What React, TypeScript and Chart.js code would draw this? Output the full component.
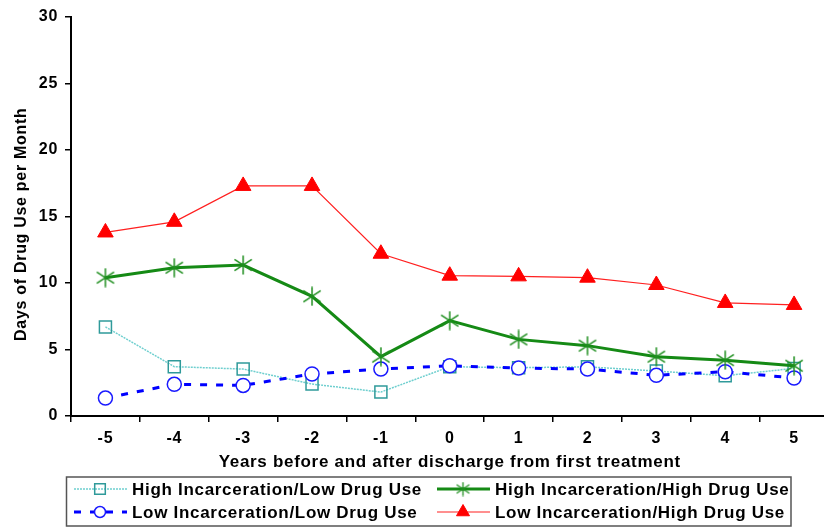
import React, { useEffect, useRef } from "react";
import { Chart, registerables } from "chart.js";
import { drawPoint } from "chart.js/helpers";

Chart.register(...registerables);

const years = ["-5", "-4", "-3", "-2", "-1", "0", "1", "2", "3", "4", "5"];
const highIncLowDrug = [6.7, 3.71, 3.53, 2.4, 1.8, 3.71, 3.63, 3.7, 3.38, 3.03, 3.58];
const highIncHighDrug = [10.4, 11.15, 11.35, 9.0, 4.46, 7.17, 5.76, 5.29, 4.46, 4.2, 3.78];
const lowIncLowDrug = [1.35, 2.38, 2.3, 3.16, 3.53, 3.78, 3.6, 3.53, 3.06, 3.33, 2.86];
const lowIncHighDrug = [13.8, 14.6, 17.3, 17.3, 12.2, 10.55, 10.5, 10.4, 9.85, 8.5, 8.35];
const yTicks = [0, 5, 10, 15, 20, 25, 30];

const FONT = "'Liberation Sans', Arial, sans-serif";
const SPACING = "0.7px";

function makeStar(size: number, color: string, lw: number) {
  const c = document.createElement("canvas");
  c.width = size;
  c.height = size;
  const ctx = c.getContext("2d")!;
  const m = size / 2;
  const r = size / 2 - 0.5;
  ctx.strokeStyle = color;
  ctx.lineWidth = lw;
  ctx.beginPath();
  ctx.moveTo(m, m - r);
  ctx.lineTo(m, m + r);
  const dx = r * Math.cos(Math.PI / 6) * 1.05;
  const dy = r * Math.sin(Math.PI / 6) * 1.2;
  ctx.moveTo(m - dx, m - dy);
  ctx.lineTo(m + dx, m + dy);
  ctx.moveTo(m - dx, m + dy);
  ctx.lineTo(m + dx, m - dy);
  ctx.stroke();
  return c;
}

const spacingPlugin = {
  id: "spacing",
  beforeInit(chart: any) {
    chart.ctx.letterSpacing = SPACING;
  },
  beforeUpdate(chart: any) {
    chart.ctx.letterSpacing = SPACING;
  },
  beforeDraw(chart: any) {
    chart.ctx.letterSpacing = SPACING;
  },
};

const legendPlugin = {
  id: "boxLegend",
  afterDraw(chart: any) {
    const ctx = chart.ctx;
    const ds = chart.data.datasets;
    ctx.save();
    ctx.strokeStyle = "#555";
    ctx.lineWidth = 1.5;
    ctx.strokeRect(66.5, 477, 724.5, 49);
    const cols = [
      { l0: 74, l1: 127, m: 100, t: 132 },
      { l0: 437, l1: 490, m: 463, t: 495 },
    ];
    const rows = [489, 512];
    const legendRadius = [7.5, 6.5, 5.5, 7.5];
    const legendStar = makeStar(15, "#1f8f1f", 1.3);
    ds.forEach((d: any, i: number) => {
      const c = cols[i % 2];
      const y = rows[Math.floor(i / 2)];
      ctx.save();
      ctx.strokeStyle = d.borderColor;
      ctx.lineWidth = d.borderWidth;
      ctx.setLineDash(d.borderDash || []);
      ctx.beginPath();
      ctx.moveTo(c.l0, y);
      ctx.lineTo(c.l1, y);
      ctx.stroke();
      ctx.setLineDash([]);
      ctx.strokeStyle = d.pointBorderColor;
      ctx.fillStyle = d.pointBackgroundColor;
      ctx.lineWidth = d.pointBorderWidth;
      const style = typeof d.pointStyle === "string" ? d.pointStyle : legendStar;
      drawPoint(ctx, { pointStyle: style, radius: legendRadius[i], borderWidth: d.pointBorderWidth, rotation: 0 }, c.m, y);
      ctx.restore();
      ctx.fillStyle = "#000";
      ctx.letterSpacing = SPACING;
      ctx.font = `bold 17px ${FONT}`;
      ctx.textBaseline = "middle";
      ctx.textAlign = "left";
      ctx.fillText(d.label, c.t, y + 1);
    });
    ctx.restore();
  },
};

export default function App() {
  const ref = useRef<HTMLCanvasElement | null>(null);
  useEffect(() => {
    if (!ref.current) return;
    const star = makeStar(20, "#1f8f1f", 1.5);
    const chart = new Chart(ref.current, {
      type: "line",
      data: {
        labels: years,
        datasets: [
          {
            label: "High Incarceration/Low Drug Use",
            data: highIncLowDrug,
            borderColor: "#6fcfcf",
            borderWidth: 1.5,
            borderDash: [2, 1],
            pointStyle: "rect",
            pointRadius: 8.5,
            pointBorderColor: "#2f9a9a",
            pointBackgroundColor: "rgba(0,0,0,0)",
            pointBorderWidth: 1.5,
            order: 4,
          },
          {
            label: "High Incarceration/High Drug Use",
            data: highIncHighDrug,
            borderColor: "#158a15",
            borderWidth: 3,
            pointStyle: star,
            pointRadius: 10,
            pointBorderColor: "#1f8f1f",
            pointBackgroundColor: "#1f8f1f",
            pointBorderWidth: 1.5,
            order: 2,
          },
          {
            label: "Low Incarceration/Low Drug Use",
            data: lowIncLowDrug,
            borderColor: "#0000ff",
            borderWidth: 3,
            borderDash: [7, 9],
            pointStyle: "circle",
            pointRadius: 7,
            pointBorderColor: "#1a1aff",
            pointBackgroundColor: "#ffffff",
            pointBorderWidth: 1.5,
            order: 3,
          },
          {
            label: "Low Incarceration/High Drug Use",
            data: lowIncHighDrug,
            borderColor: "#ff2020",
            borderWidth: 1.2,
            pointStyle: "triangle",
            pointRadius: 9,
            pointBorderColor: "#ff0000",
            pointBackgroundColor: "#ff0000",
            pointBorderWidth: 1,
            order: 1,
          },
        ],
      },
      options: {
        animation: false,
        responsive: false,
        devicePixelRatio: 1,
        layout: { padding: { left: 0, top: 17, right: 11, bottom: 54 } },
        plugins: { legend: { display: false }, tooltip: { enabled: false } },
        scales: {
          x: {
            type: "category",
            offset: true,
            grid: {
              offset: true,
              drawOnChartArea: false,
              drawTicks: true,
              tickLength: 6,
              color: "#000",
              lineWidth: 1.5,
            },
            border: { color: "#000", width: 2 },
            ticks: {
              color: "#000",
              font: { family: FONT, size: 16, weight: "bold" },
              padding: 7,
              maxRotation: 0,
            },
            title: {
              display: true,
              text: "Years before and after discharge from first treatment",
              color: "#000",
              font: { family: FONT, size: 17, weight: "bold", lineHeight: 1.2 },
              padding: { top: 0, bottom: 0 },
            },
            afterFit: (s: any) => {
              s.height = 57;
            },
          },
          y: {
            min: 0,
            max: 30,
            afterBuildTicks: (s: any) => {
              s.ticks = yTicks.map((v) => ({ value: v }));
            },
            grid: {
              drawOnChartArea: false,
              drawTicks: true,
              tickLength: 6,
              color: "#000",
              lineWidth: 1.5,
            },
            border: { color: "#000", width: 2 },
            ticks: {
              color: "#000",
              font: { family: FONT, size: 16, weight: "bold" },
              padding: 7,
            },
            title: {
              display: true,
              text: "Days of Drug Use per Month   ",
              color: "#000",
              font: { family: FONT, size: 16, weight: "bold", lineHeight: 1.2 },
              padding: { top: 12, bottom: 0 },
            },
            afterFit: (s: any) => {
              s.width = 71;
            },
          },
        },
      },
      plugins: [spacingPlugin, legendPlugin],
    } as any);
    return () => chart.destroy();
  }, []);
  return (
    <div style={{ position: "fixed", left: 0, top: 0, width: 824, height: 527, overflow: "hidden", background: "#fff" }}>
      <canvas ref={ref} width={840} height={527} style={{ width: 840, height: 527, display: "block" }} />
    </div>
  );
}
